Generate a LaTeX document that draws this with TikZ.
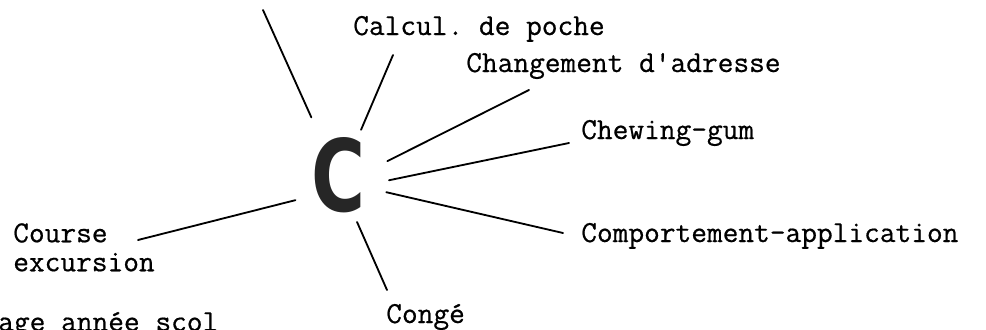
\documentclass[tikz,border=0pt]{standalone}
\usepackage{fontspec}
\usepackage{graphicx}
\usepackage{tikz}
\usetikzlibrary{positioning}
\setmonofont{Latin Modern Mono}[FakeBold=0.6]
\newfontfamily\bigletter{DejaVu Sans}[BoldFont=* Bold]

\begin{document}
\begin{tikzpicture}[x=0.025cm, y=0.025cm,
word/.style={anchor=base west, inner sep=0pt, font=\ttfamily\fontsize{21.7}{20.6}\selectfont, align=left},
spoke/.style={line width=1.3pt, line cap=round},
hub/.style={circle, inner sep=0pt, minimum size=2.5cm, text=black!85}
]

% frame
\useasboundingbox (0,0) rectangle (986,-329);
\clip (0,0) rectangle (986,-329);

% centre letter
\node[hub] (hub) at (339,-175) {\resizebox{1.35cm}{1.85cm}{\bigletter\bfseries C}};

% words round the letter
\node[word] (calc) at (353,-35) {Calcul. de poche};
\node[word] (chg) at (466,-72) {Changement d'adresse};
\node[word] (chew) at (581,-139) {Chewing-gum};
\node[word] (comp) at (581,-242) {Comportement-application};
\node[word] (conge) at (386,-323) {Congé};
\node[word, anchor=north west] (course) at (13,-223) {Course\\excursion};
\node[word] (annee) at (-2,-331) {age année scol};

% spokes
\coordinate (top) at (263,-10);
\draw[spoke, shorten <=0.34cm] (hub.116) -- (top);
\draw[spoke] (hub.64) -- ([shift={(40,-20)}]calc.base west);
\draw[spoke] (hub.16) -- ([shift={(63,-18)}]chg.base west);
\draw[spoke] (hub.-6) -- ([shift={(-12,-4)}]chew.base west);
\draw[spoke] (hub.-20) -- ([shift={(-18,9)}]comp.base west);
\draw[spoke] (hub.-69) -- ([shift={(1,33)}]conge.base west);
\draw[spoke] (hub.-150) -- ([shift={(125,-17)}]course.north west);

\end{tikzpicture}
\end{document}
